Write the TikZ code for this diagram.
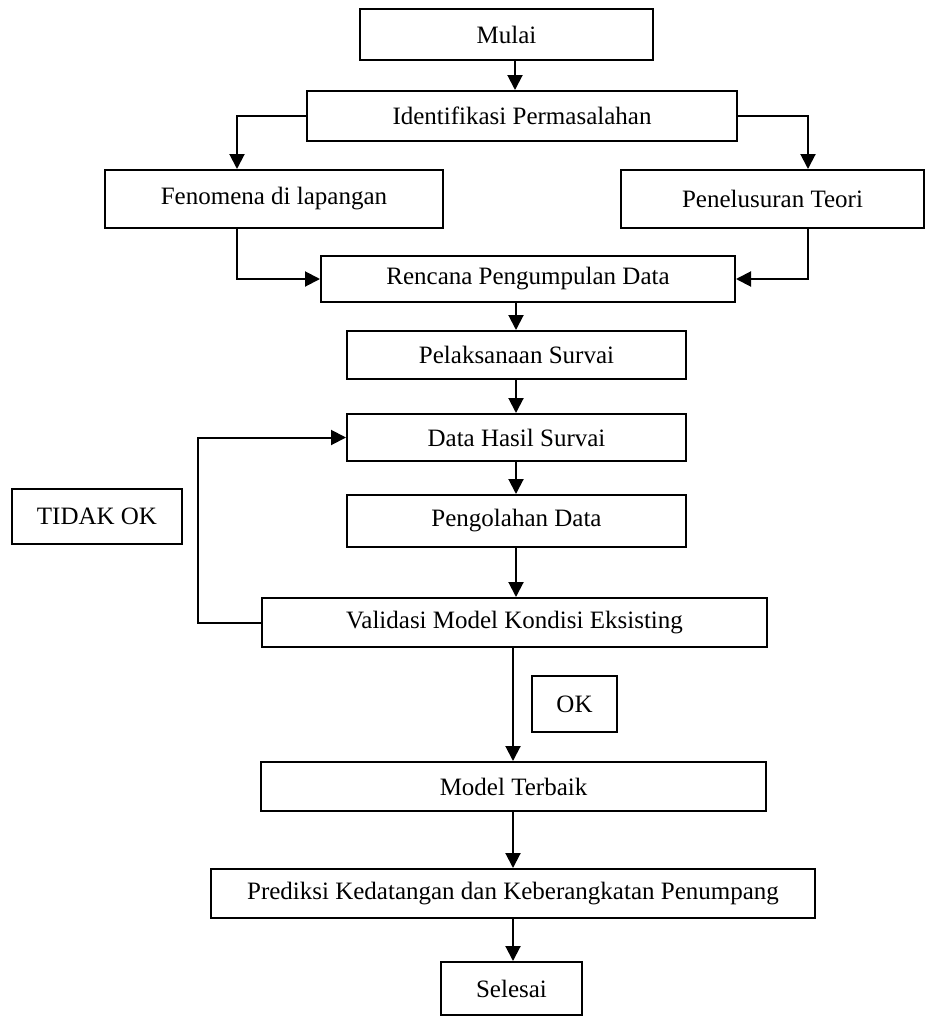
\documentclass[tikz,border=0pt]{standalone}
\usepackage{fontspec}
\setmainfont{Liberation Serif}
\usetikzlibrary{arrows.meta}
\begin{document}
\begin{tikzpicture}[x=1pt,y=-1pt,
  box/.style={draw=black,line width=2pt,rectangle,inner sep=0pt,align=center,
    font=\fontsize{25}{30}\selectfont},
  arr/.style={line width=2pt,-{Triangle[length=15pt,width=15pt]}}]
\useasboundingbox (0,0) rectangle (925,1017);
\node[box,minimum width=293pt,minimum height=51pt] (mulai) at (506.5,34.5) {Mulai};
\node[box,minimum width=430pt,minimum height=50pt] (ident) at (522,116) {Identifikasi Permasalahan};
\node[box,minimum width=338pt,minimum height=58pt] (fen) at (274,199) {Fenomena di lapangan};
\node[box,minimum width=303pt,minimum height=58pt] (pen) at (772.5,199) {Penelusuran Teori};
\node[box,minimum width=414pt,minimum height=46pt] (renc) at (528,279) {Rencana Pengumpulan Data};
\node[box,minimum width=339pt,minimum height=48pt] (pel) at (516.5,355) {Pelaksanaan Survai};
\node[box,minimum width=339pt,minimum height=47pt] (data) at (516.5,437.5) {Data Hasil Survai};
\node[box,minimum width=170pt,minimum height=55pt] (tidak) at (97,516.5) {TIDAK OK};
\node[box,minimum width=339pt,minimum height=52pt] (peng) at (516.5,521) {Pengolahan Data};
\node[box,minimum width=505pt,minimum height=49pt] (valid) at (514.5,622.5) {Validasi Model Kondisi Eksisting};
\node[box,minimum width=85pt,minimum height=56pt] (ok) at (574.5,704) {OK};
\node[box,minimum width=505pt,minimum height=49pt] (model) at (513.5,786.5) {Model Terbaik};
\node[box,minimum width=604pt,minimum height=49pt] (pred) at (513,893.5) {Prediksi Kedatangan dan Keberangkatan Penumpang};
\node[box,minimum width=141pt,minimum height=53pt] (sel) at (511.5,988.5) {Selesai};
\coordinate (c1) at (515,0);
\coordinate (c2) at (516,0);
\coordinate (c3) at (513,0);
\coordinate (lx) at (237,0);
\coordinate (rx) at (808,0);
\coordinate (loopx) at (198,0);
\draw[arr] (mulai.south -| c1) -- (ident.north -| c1);
\draw[arr] (ident.west) -| (fen.north -| lx);
\draw[arr] (ident.east) -| (pen.north -| rx);
\draw[arr] (fen.south -| lx) |- (renc.west);
\draw[arr] (pen.south -| rx) |- (renc.east);
\draw[arr] (renc.south -| c2) -- (pel.north -| c2);
\draw[arr] (pel.south -| c2) -- (data.north -| c2);
\draw[arr] (data.south -| c2) -- (peng.north -| c2);
\draw[arr] (peng.south -| c2) -- (valid.north -| c2);
\draw[arr] (valid.west) -- (valid.west -| loopx) -- (data.west -| loopx) -- (data.west);
\draw[arr] (valid.south -| c3) -- (model.north -| c3);
\draw[arr] (model.south -| c3) -- (pred.north -| c3);
\draw[arr] (pred.south -| c3) -- (sel.north -| c3);
\end{tikzpicture}
\end{document}
